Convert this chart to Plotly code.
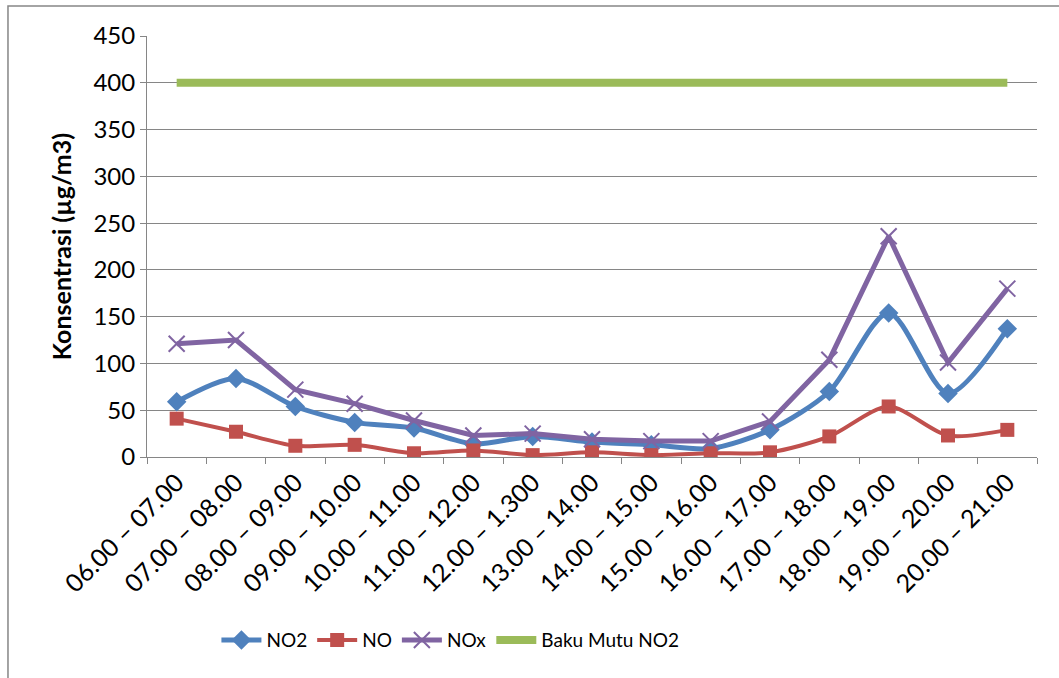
import plotly.graph_objects as go

categories = ["06.00 – 07.00", "07.00 – 08.00", "08.00 – 09.00", "09.00 – 10.00",
              "10.00 – 11.00", "11.00 – 12.00", "12.00 – 1.300", "13.00 – 14.00",
              "14.00 – 15.00", "15.00 – 16.00", "16.00 – 17.00", "17.00 – 18.00",
              "18.00 – 19.00", "19.00 – 20.00", "20.00 – 21.00"]
no2 = [59, 84, 54, 37, 31, 14, 22, 16, 13, 9, 29, 70, 154, 68, 137]
no = [41, 27, 12, 13, 4, 7, 2, 5, 2, 4, 5, 22, 54, 23, 29]
nox = [121, 125, 72, 57, 39, 23, 25, 19, 17, 17, 38, 104, 236, 101, 180]
baku_mutu = [400] * len(categories)

FONT = "Lato"
SM = 0.8
fig = go.Figure()
fig.add_trace(go.Scatter(x=categories, y=no2, name="NO2", mode="lines+markers",
                         line=dict(color="#4F81BD", width=5, shape="spline", smoothing=SM),
                         marker=dict(symbol="diamond", size=15, color="#4F81BD")))
fig.add_trace(go.Scatter(x=categories, y=no, name="NO", mode="lines+markers",
                         line=dict(color="#C0504D", width=4, shape="spline", smoothing=SM),
                         marker=dict(symbol="square", size=14, color="#C0504D")))
fig.add_trace(go.Scatter(x=categories, y=nox, name="NOx", mode="lines+markers",
                         line=dict(color="#8064A2", width=5),
                         marker=dict(symbol="x-thin", size=16, color="#8064A2",
                                     line=dict(width=2, color="#8064A2"))))
fig.add_trace(go.Scatter(x=categories, y=baku_mutu, name="Baku Mutu NO2", mode="lines",
                         line=dict(color="#9BBB59", width=8)))

fig.update_layout(
    width=1059, height=678,
    margin=dict(l=147, r=22, t=36, b=221, autoexpand=False),
    paper_bgcolor="white", plot_bgcolor="white",
    font=dict(family=FONT, color="black", size=19),
    showlegend=True,
    legend=dict(orientation="h", x=0.078, y=-0.435, xanchor="left", yanchor="middle",
                font=dict(size=19, family=FONT), itemwidth=40, traceorder="normal"),
    xaxis=dict(tickangle=-45, tickfont=dict(size=25, family=FONT), showgrid=False,
               showline=True, linecolor="#868686", linewidth=1, automargin=False,
               ticks="outside", tickson="boundaries", ticklen=6, tickcolor="#868686",
               range=[-0.5, len(categories) - 0.5]),
    yaxis=dict(range=[0, 450], dtick=50, tickfont=dict(size=24, family=FONT),
               showgrid=True, gridcolor="#868686", gridwidth=1, automargin=False,
               showline=True, linecolor="#868686", linewidth=1,
               ticks="outside", ticklen=6, tickcolor="#868686",
               zeroline=False,
               title=dict(text="<b>Konsentrasi (µg/m3)</b>", font=dict(size=25, family=FONT),
                          standoff=14)),
    shapes=[dict(type="rect", xref="paper", yref="paper",
                 x0=-0.1562, x1=1.1, y0=-0.6, y1=1.0713,
                 line=dict(color="#868686", width=1.5), fillcolor="rgba(0,0,0,0)", layer="below")],
)

fig.write_html("out.html", config={"displayModeBar": False},
               post_script="document.body.style.margin='0px';")
